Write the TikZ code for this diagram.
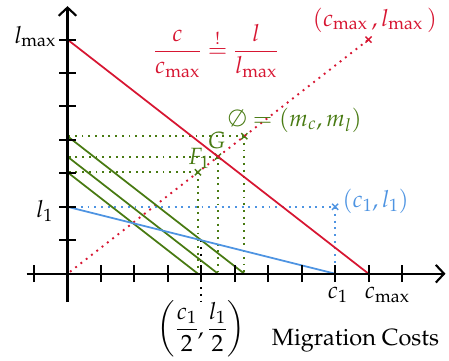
\documentclass[tikz,border=0pt]{standalone}
\usepackage[T1]{fontenc}
\usepackage{amsmath}
\usepackage{mathpazo}
\usetikzlibrary{arrows.meta,shapes.misc}
\definecolor{cred}{RGB}{215,22,50}
\definecolor{cgreen}{RGB}{72,122,18}
\definecolor{cblue}{RGB}{78,148,226}
\begin{document}
\begin{tikzpicture}[font=\fontsize{20}{24}\selectfont,
  axisline/.style={line width=1.8pt},
  tickline/.style={line width=1.7pt},
  dotline/.style={line width=1.6pt, dash pattern=on 1.6pt off 4.1pt},
  solidline/.style={line width=1.5pt},
  xmark/.style={cross out, draw, minimum size=4pt, inner sep=0pt, line width=1.2pt}]
\useasboundingbox (-2.018,-2.596) rectangle (11.405,8.183);
\coordinate (O) at (0,0);
\coordinate (xs) at (-1.22,0);
\coordinate (xe) at (11.3,0);
\coordinate (ys) at (0,-0.85);
\coordinate (ye) at (0,8.0);
\coordinate (L7) at (0,7);
\coordinate (C9) at (9,0);
\coordinate (L2) at (0,2);
\coordinate (C8) at (8,0);
\coordinate (H) at (4,1);
\coordinate (Hb) at (4,-0.85);
% marked points
\node[xmark,cred] (Pmax) at (9,7) {};
\node[xmark,cblue] (P1) at (8,2) {};
\node[xmark,cgreen] (F1) at (3.9,3.033) {};
\node[xmark,cgreen] (G) at (4.5,3.5) {};
\node[xmark,cgreen] (M) at (5.286,4.111) {};
% dotted helper lines
\draw[dotline,cred,dash phase=3pt] (O) -- (Pmax.center);
\draw[dotline,cblue] (L2) -- (P1.center) -- (C8);
\draw[dotline,cgreen] (F1.center) -- (F1.center -| O);
\draw[dotline,cgreen] (F1.center) -- (F1.center |- O);
\draw[dotline,cgreen] (G.center) -- (G.center -| O);
\draw[dotline,cgreen] (G.center) -- (G.center |- O);
\draw[dotline,cgreen] (M.center) -- (M.center -| O);
\draw[dotline,cgreen] (M.center) -- (M.center |- O);
\draw[dotline,black] (H) -- (Hb);
% solid lines
\draw[solidline,cgreen] (F1.center -| O) -- (F1.center |- O);
\draw[solidline,cgreen] (G.center -| O) -- (G.center |- O);
\draw[solidline,cgreen] (M.center -| O) -- (M.center |- O);
\draw[solidline,cblue] (L2) -- (C8);
\draw[solidline,cred] (L7) -- (C9);
% axes
\draw[axisline,-{Straight Barb[length=7pt,width=15pt]}] (xs) -- (xe);
\draw[axisline,-{Straight Barb[length=7pt,width=15pt]}] (ys) -- (ye);
\foreach \x in {-1,1,2,...,10} \draw[tickline] (\x,-0.25) -- (\x,0.25);
\foreach \y in {1,...,7} \draw[tickline] (-0.25,\y) -- (0.25,\y);
% axis labels
\node[anchor=base east] (lmax) at (-0.22,6.89) {$l_{\max}$};
\node[anchor=base east] (lone) at (-0.31,1.69) {$l_1$};
\node[anchor=base] (cone) at (8.08,-0.74) {$c_1$};
\node[anchor=base] (cmax) at (9.56,-0.74) {$c_{\max}$};
\node[anchor=base east] (mig) at (11.23,-2.15) {Migration Costs};
\node (half) at (4.0,-1.66) {$\left(\dfrac{c_1}{2},\dfrac{l_1}{2}\right)$};
% point labels
\node[cred] (form) at (4.44,6.65) {$\dfrac{c}{c_{\max}} \overset{!}{=} \dfrac{l}{l_{\max}}$};
\node[cred] (Pmaxl) at (9.19,7.58) {$(c_{\max}\,, l_{\max}\,)$};
\node[cblue,anchor=west] (P1l) at (8.1,2.16) {$(c_1, l_1)$};
\node[cgreen] (F1l) at (3.93,3.45) {$F_1$};
\node[cgreen] (Gl) at (4.46,3.99) {$G$};
\node[cgreen] (Ml) at (6.8,4.59) {$\emptyset = (m_c, m_l)$};
\end{tikzpicture}
\end{document}
